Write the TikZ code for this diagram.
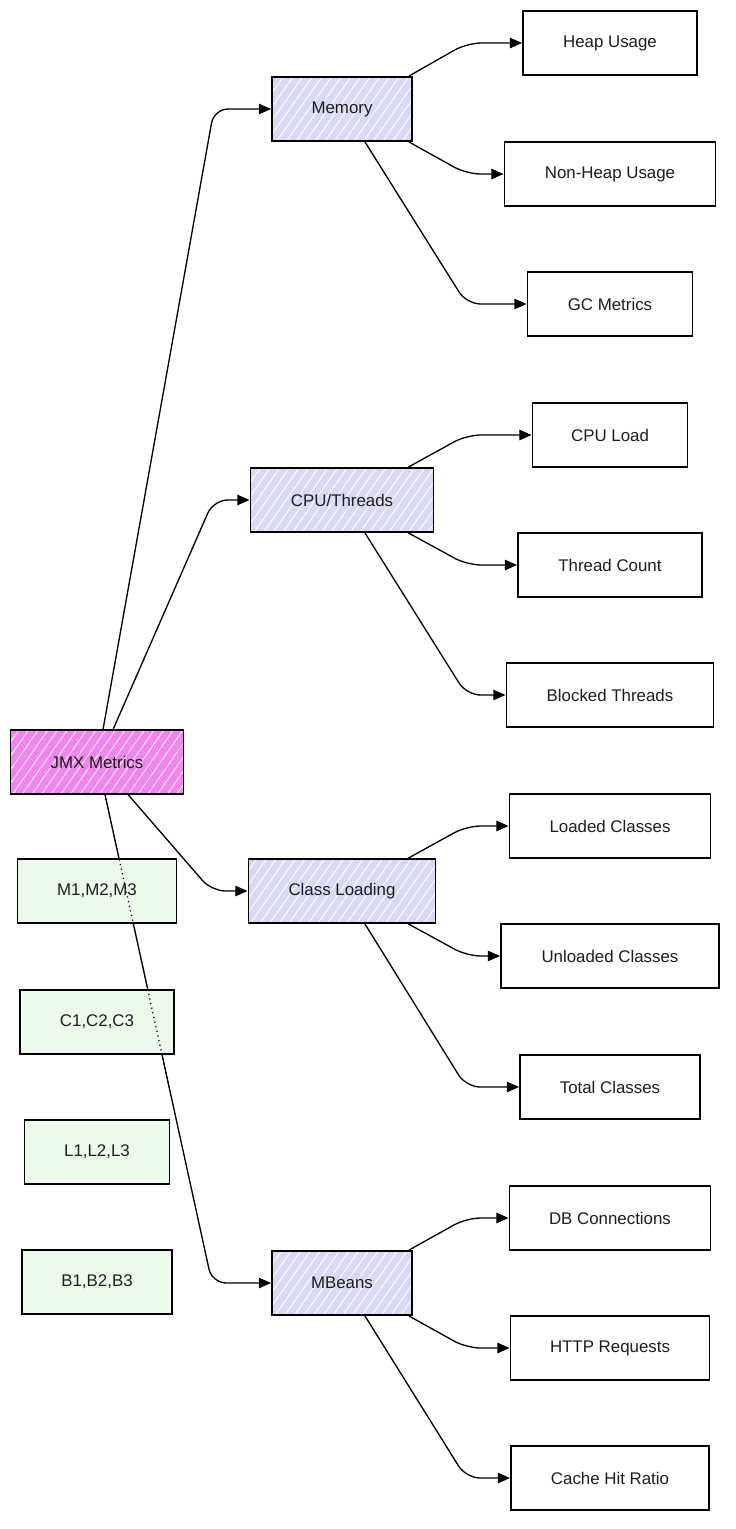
\documentclass[tikz,border=0pt]{standalone}
\usepackage{fontspec}
\setmainfont{Liberation Sans}
\usetikzlibrary{arrows.meta,patterns.meta,calc}
\definecolor{textgray}{HTML}{1E1E1E}
\definecolor{rootfill}{HTML}{F483F4}
\definecolor{groupfill}{HTML}{D9D9F7}
\definecolor{listfill}{HTML}{EBFAEB}
\tikzset{
  box/.style={draw=black, line width=1.1pt, minimum height=1.28cm, inner sep=1pt,
    text=textgray, font=\fontsize{9.6}{11}\selectfont},
  hatched/.style={preaction={fill=#1},
    pattern={Lines[angle=55,distance=4.5pt,line width=0.5pt]}, pattern color=white},
  rootbox/.style={box, hatched=rootfill},
  groupbox/.style={box, hatched=groupfill},
  leafbox/.style={box, fill=white},
  listbox/.style={box, line width=0.9pt, fill=listfill},
  link/.style={line width=0.75pt, rounded corners=8pt, -{Triangle[length=7pt,width=6pt]}},
}
\begin{document}
\begin{tikzpicture}[x=0.02cm, y=-0.02cm]
            \useasboundingbox (0,0) rectangle (735,1529);

            % Root node
            \node [rootbox, minimum width=3.46cm] (jmx) at (97,762) {JMX Metrics};%

            % Group nodes
            \node [groupbox, minimum width=2.80cm] (mem) at (342,109) {Memory};%
            \node [groupbox, minimum width=3.66cm] (cpu) at (342,500) {CPU/Threads};%
            \node [groupbox, minimum width=3.74cm] (cls) at (342,891) {Class Loading};%
            \node [groupbox, minimum width=2.80cm] (mbn) at (342,1283) {MBeans};%

            % Leaf nodes of Memory
            \node [leafbox, minimum width=3.48cm] (heap) at (610,43) {Heap Usage};%
            \node [leafbox, minimum width=4.22cm] (nonheap) at (610,174) {Non-Heap Usage};%
            \node [leafbox, minimum width=3.30cm] (gc) at (610,304) {GC Metrics};%

            % Leaf nodes of CPU/Threads
            \node [leafbox, minimum width=3.10cm] (cpuload) at (610,435) {CPU Load};%
            \node [leafbox, minimum width=3.68cm] (thcount) at (610,565) {Thread Count};%
            \node [leafbox, minimum width=4.14cm] (blocked) at (610,695) {Blocked Threads};%

            % Leaf nodes of Class Loading
            \node [leafbox, minimum width=4.02cm] (loaded) at (610,826) {Loaded Classes};%
            \node [leafbox, minimum width=4.36cm] (unloaded) at (610,956) {Unloaded Classes};%
            \node [leafbox, minimum width=3.60cm] (total) at (610,1087) {Total Classes};%

            % Leaf nodes of MBeans
            \node [leafbox, minimum width=4.02cm] (dbconn) at (610,1218) {DB Connections};%
            \node [leafbox, minimum width=3.98cm] (http) at (610,1348) {HTTP Requests};%
            \node [leafbox, minimum width=3.96cm] (cache) at (610,1478) {Cache Hit Ratio};%

            % Bends of the root links
            \coordinate (mbnout) at ($(jmx.south)+(8,0)$);%
            \coordinate (mbnbend) at ($(mbn.west)+(-59,0)$);%

            % Drawing root to groups
            \draw [link] ($(jmx.north)+(6,0)$) -- ($(mem.west)+(-57,0)$) -- (mem.west);%
            \draw [link] ($(jmx.north)+(16,0)$) -- ($(cpu.west)+(-36,0)$) -- (cpu.west);%
            \draw [link] ($(jmx.south)+(31,0)$) -- ($(cls.west)+(-36,0)$) -- (cls.west);%
            \draw [link] (mbnout) -- (mbnbend) -- (mbn.west);%

            % Drawing Memory to leaves
            \draw [link] ($(mem.north east)+(-4,0)$) -- ($(heap.west)+(-55,0)$) -- (heap.west);%
            \draw [link] ($(mem.south east)+(-4,0)$) -- ($(nonheap.west)+(-37,0)$) -- (nonheap.west);%
            \draw [link] ($(mem.south)+(23,0)$) -- ($(gc.west)+(-60,0)$) -- (gc.west);%

            % Drawing CPU/Threads to leaves
            \draw [link] ($(cpu.north east)+(-26,0)$) -- ($(cpuload.west)+(-65,0)$) -- (cpuload.west);%
            \draw [link] ($(cpu.south east)+(-26,0)$) -- ($(thcount.west)+(-50,0)$) -- (thcount.west);%
            \draw [link] ($(cpu.south)+(23,0)$) -- ($(blocked.west)+(-39,0)$) -- (blocked.west);%

            % Drawing Class Loading to leaves
            \draw [link] ($(cls.north east)+(-28,0)$) -- ($(loaded.west)+(-42,0)$) -- (loaded.west);%
            \draw [link] ($(cls.south east)+(-28,0)$) -- ($(unloaded.west)+(-33,0)$) -- (unloaded.west);%
            \draw [link] ($(cls.south)+(23,0)$) -- ($(total.west)+(-53,0)$) -- (total.west);%

            % Drawing MBeans to leaves
            \draw [link] ($(mbn.north east)+(-4,0)$) -- ($(dbconn.west)+(-42,0)$) -- (dbconn.west);%
            \draw [link] ($(mbn.south east)+(-4,0)$) -- ($(http.west)+(-43,0)$) -- (http.west);%
            \draw [link] ($(mbn.south)+(23,0)$) -- ($(cache.west)+(-44,0)$) -- (cache.west);%

            % Marking list boxes over the root link
            \node [listbox, minimum width=3.18cm] (mlist) at (97,891) {M1,M2,M3};%
            \node [listbox, minimum width=3.08cm] (clist) at (97,1022) {C1,C2,C3};%
            \node [listbox, minimum width=2.90cm] (llist) at (97,1152) {L1,L2,L3};%
            \node [listbox, minimum width=3.00cm] (blist) at (97,1282) {B1,B2,B3};%

            % Dotted trace of the root link through the list boxes
            \draw [line width=0.7pt, dotted] (mbnout) -- ($(mbnout)!0.6!(mbnbend)$);%
        \end{tikzpicture}
\end{document}
